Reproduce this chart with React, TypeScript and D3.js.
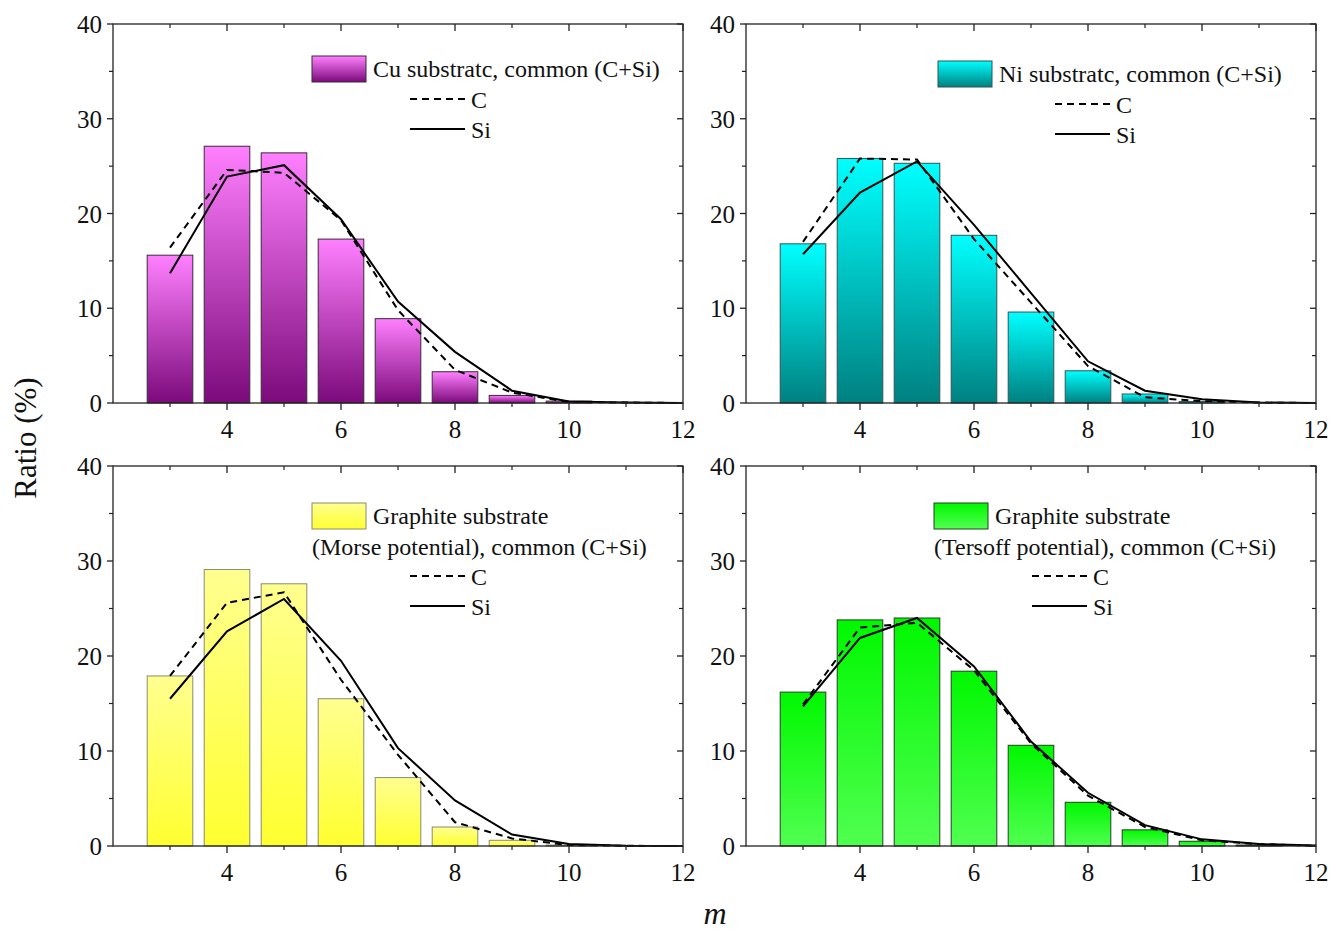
import React from "react";
import * as d3 from "d3";

const mBars = [3, 4, 5, 6, 7, 8, 9, 10, 11];
const mLines = [3, 4, 5, 6, 7, 8, 9, 10, 11, 12];

const cuBars = [15.6, 27.1, 26.4, 17.3, 8.9, 3.3, 0.8, 0.2, 0.0];
const cuC = [16.4, 24.6, 24.3, 19.3, 9.8, 3.5, 1.1, 0.1, 0.05, 0];
const cuSi = [13.7, 23.9, 25.1, 19.4, 10.7, 5.4, 1.3, 0.15, 0.05, 0];

const niBars = [16.8, 25.8, 25.3, 17.7, 9.6, 3.4, 0.95, 0.15, 0.0];
const niC = [17.0, 25.8, 25.7, 17.3, 10.6, 3.9, 0.6, 0.2, 0.05, 0];
const niSi = [15.7, 22.2, 25.5, 18.8, 11.6, 4.4, 1.3, 0.4, 0.05, 0];

const morseBars = [17.9, 29.1, 27.6, 15.5, 7.2, 2.0, 0.6, 0.1, 0.0];
const morseC = [17.9, 25.6, 26.7, 17.5, 9.6, 2.5, 0.8, 0.1, 0.02, 0];
const morseSi = [15.5, 22.6, 26.0, 19.5, 10.3, 4.8, 1.2, 0.2, 0.03, 0];

const tersoffBars = [16.2, 23.8, 24.0, 18.4, 10.6, 4.6, 1.7, 0.5, 0.1];
const tersoffC = [14.9, 23.0, 23.5, 18.5, 10.8, 5.3, 2.0, 0.6, 0.2, 0.02];
const tersoffSi = [14.7, 21.9, 24.0, 18.9, 11.0, 5.6, 2.2, 0.7, 0.2, 0.05];

const xTicks = [4, 6, 8, 10, 12];
const xMinor = [3, 5, 7, 9, 11];
const yTicks = [0, 10, 20, 30, 40];
const yMinor = [5, 15, 25, 35];

const legendTitles = [
  ["Cu substratc, common (C+Si)"],
  ["Ni substratc, common (C+Si)"],
  ["Graphite substrate", "(Morse potential), common (C+Si)"],
  ["Graphite substrate", "(Tersoff potential), common (C+Si)"],
];

const panels = [
  { bars: cuBars, c: cuC, si: cuSi, top: "#ff80ff", bottom: "#7c0a7c", stroke: "#3a2a3a",
    x0: 113, x1: 683, y0: 24, y1: 403, lx: 312, ly: 56, lineX: 410 },
  { bars: niBars, c: niC, si: niSi, top: "#00ffff", bottom: "#008080", stroke: "#2f5555",
    x0: 746, x1: 1316, y0: 24, y1: 403, lx: 938, ly: 61, lineX: 1055 },
  { bars: morseBars, c: morseC, si: morseSi, top: "#ffff90", bottom: "#ffff30", stroke: "#8a8a70",
    x0: 113, x1: 683, y0: 466, y1: 846, lx: 312, ly: 503, lineX: 410 },
  { bars: tersoffBars, c: tersoffC, si: tersoffSi, top: "#00f800", bottom: "#50ff50", stroke: "#204020",
    x0: 746, x1: 1316, y0: 466, y1: 846, lx: 934, ly: 503, lineX: 1032 },
];

const FONT = "'Liberation Serif', 'Times New Roman', serif";

function Panel({ p, idx }: { p: any; idx: number }) {
  const x = d3.scaleLinear().domain([2, 12]).range([p.x0, p.x1]);
  const y = d3.scaleLinear().domain([0, 40]).range([p.y1, p.y0]);
  const bw = x(3.8) - x(3);
  const line = d3.line<number>().x((_, i) => x(mLines[i])).y((d) => y(d));
  const gid = `grad${idx}`;
  const titles = legendTitles[idx];
  const multi = titles.length > 1;
  const cY = multi ? p.ly + 73 : p.ly + 43;
  const siY = cY + 30;
  return (
    <g>
      <defs>
        <linearGradient id={gid} x1="0" y1="0" x2="0" y2="1">
          <stop offset="0" stopColor={p.top} />
          <stop offset="1" stopColor={p.bottom} />
        </linearGradient>
      </defs>
      {p.bars.map((v: number, i: number) =>
        v > 0 ? (
          <rect key={i} x={x(mBars[i]) - bw / 2} y={y(v)} width={bw} height={y(0) - y(v)}
            fill={`url(#${gid})`} stroke={p.stroke} strokeWidth={1} />
        ) : null
      )}
      <path d={line(p.c) || ""} fill="none" stroke="#000" strokeWidth={2} strokeDasharray="7,5" />
      <path d={line(p.si) || ""} fill="none" stroke="#000" strokeWidth={2} />
      <rect x={p.x0} y={p.y0} width={p.x1 - p.x0} height={p.y1 - p.y0} fill="none" stroke="#222" strokeWidth={1.3} />
      {xTicks.map((t) => (
        <g key={"xt" + t}>
          <line x1={x(t)} x2={x(t)} y1={p.y1} y2={p.y1 + 7} stroke="#222" strokeWidth={1.3} />
          <line x1={x(t)} x2={x(t)} y1={p.y0} y2={p.y0 + 7} stroke="#222" strokeWidth={1.3} />
          <text x={x(t)} y={p.y1 + 35} textAnchor="middle" fontSize={25} fontFamily={FONT} fill="#111">{t}</text>
        </g>
      ))}
      {xMinor.map((t) => (
        <g key={"xm" + t}>
          <line x1={x(t)} x2={x(t)} y1={p.y1} y2={p.y1 + 4} stroke="#222" strokeWidth={1.2} />
          <line x1={x(t)} x2={x(t)} y1={p.y0} y2={p.y0 + 4} stroke="#222" strokeWidth={1.2} />
        </g>
      ))}
      {yTicks.map((t) => (
        <g key={"yt" + t}>
          <line x1={p.x0 - 6} x2={p.x0} y1={y(t)} y2={y(t)} stroke="#222" strokeWidth={1.3} />
          <line x1={p.x1 - 6} x2={p.x1} y1={y(t)} y2={y(t)} stroke="#222" strokeWidth={1.3} />
          <text x={p.x0 - 11} y={y(t) + 9} textAnchor="end" fontSize={25} fontFamily={FONT} fill="#111">{t}</text>
        </g>
      ))}
      {yMinor.map((t) => (
        <g key={"ym" + t}>
          <line x1={p.x0 - 4} x2={p.x0} y1={y(t)} y2={y(t)} stroke="#222" strokeWidth={1.2} />
          <line x1={p.x1 - 4} x2={p.x1} y1={y(t)} y2={y(t)} stroke="#222" strokeWidth={1.2} />
        </g>
      ))}
      <rect x={p.lx} y={p.ly} width={54} height={26} fill={`url(#${gid})`} stroke={p.stroke} strokeWidth={1} />
      <text x={p.lx + 61} y={p.ly + 21} fontSize={24} fontFamily={FONT} fill="#111">{titles[0]}</text>
      {multi && (
        <text x={p.lx} y={p.ly + 52} fontSize={24} fontFamily={FONT} fill="#111">{titles[1]}</text>
      )}
      <line x1={p.lineX} x2={p.lineX + 55} y1={cY} y2={cY} stroke="#000" strokeWidth={2} strokeDasharray="7,5" />
      <text x={p.lineX + 61} y={cY + 9} fontSize={24} fontFamily={FONT} fill="#111">C</text>
      <line x1={p.lineX} x2={p.lineX + 55} y1={siY} y2={siY} stroke="#000" strokeWidth={2} />
      <text x={p.lineX + 61} y={siY + 9} fontSize={24} fontFamily={FONT} fill="#111">Si</text>
    </g>
  );
}

export default function App() {
  return (
    <svg width={1343} height={935} style={{ position: "absolute", left: 0, top: 0, background: "#fff" }}>
      <rect x={0} y={0} width={1343} height={935} fill="#fff" />
      {panels.map((p, i) => (
        <Panel key={i} p={p} idx={i} />
      ))}
      <text transform="translate(36,438) rotate(-90)" textAnchor="middle" fontSize={31} fontFamily={FONT} fill="#111">Ratio (%)</text>
      <text x={715} y={924} textAnchor="middle" fontSize={32} fontStyle="italic" fontFamily={FONT} fill="#111">m</text>
    </svg>
  );
}
